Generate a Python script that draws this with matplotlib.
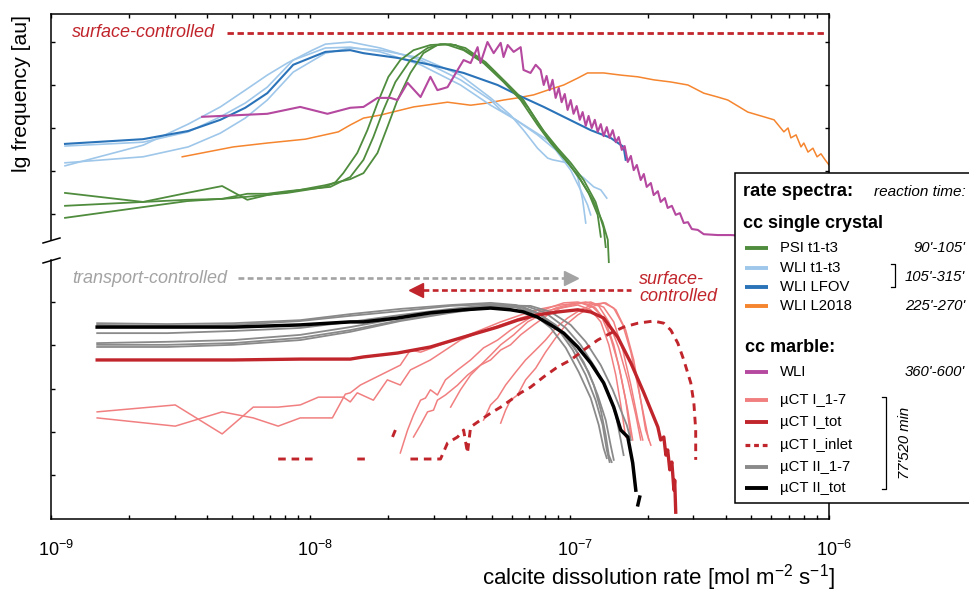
import numpy as np
import matplotlib
matplotlib.use("Agg")
import matplotlib.pyplot as plt
import matplotlib.transforms as mtransforms
from matplotlib.patches import Rectangle
from matplotlib.ticker import LogLocator, NullFormatter, FixedLocator

plt.rcParams['font.family'] = ['Liberation Sans', 'DejaVu Sans']
plt.rcParams['mathtext.fontset'] = 'custom'
plt.rcParams['mathtext.rm'] = 'Liberation Sans'
plt.rcParams['mathtext.it'] = 'Liberation Sans:italic'
plt.rcParams['mathtext.bf'] = 'Liberation Sans:bold'

# ---------------------------------------------------------------- data
# x: log10 of calcite dissolution rate [mol m-2 s-1]; y: lg frequency [au]
# ---- upper panel: cc single crystal / marble
wli_lfov_lgrate = [-8.946, -8.645, -8.471, -8.347, -8.251, -8.166, -8.066, -7.942, -7.846, -7.795, -7.664,
                   -7.537, -7.409, -7.278, -7.201, -7.100, -7.023, -6.919, -6.842, -6.792, -6.784]
wli_lfov_freq = [1.63, 1.74, 1.93, 2.19, 2.47, 2.81, 3.47, 3.77, 3.81, 3.74, 3.63,
                 3.47, 3.28, 3.00, 2.77, 2.49, 2.26, 1.95, 1.77, 1.56, 1.26]

wli_t1_lgrate = [-8.946, -8.645, -8.471, -8.347, -8.251, -8.166, -8.089, -7.992, -7.942, -7.846, -7.730,
                 -7.575, -7.421, -7.305, -7.266, -7.189, -7.085, -7.008, -6.969, -6.950, -6.938]
wli_t1_freq = [1.12, 1.60, 2.09, 2.49, 2.88, 3.23, 3.51, 3.81, 3.95, 4.00, 3.86,
               3.58, 3.12, 2.65, 2.42, 2.12, 1.72, 1.26, 0.86, 0.33, -0.21]
wli_t2_lgrate = [-8.946, -8.645, -8.471, -8.347, -8.251, -8.166, -8.066, -7.942, -7.846, -7.730, -7.575, -7.421,
                 -7.305, -7.228, -7.178, -7.124, -7.085, -7.066, -7.008, -6.977, -6.946, -6.907, -6.880, -6.857]
wli_t2_freq = [1.19, 1.33, 1.56, 1.88, 2.23, 2.65, 3.30, 3.74, 3.86, 3.81, 3.63, 3.23,
               2.70, 2.30, 1.95, 1.53, 1.30, 1.26, 1.19, 0.98, 0.84, 0.63, 0.56, 0.37]
wli_t3_lgrate = [-8.946, -8.645, -8.471, -8.347, -8.251, -8.166, -8.066, -7.942, -7.846, -7.730,
                 -7.575, -7.421, -7.305, -7.208, -7.124, -7.054, -6.996, -6.958, -6.931, -6.919]
wli_t3_freq = [1.58, 1.67, 1.91, 2.26, 2.58, 2.95, 3.58, 3.86, 3.88, 3.77,
               3.47, 3.00, 2.53, 2.19, 1.84, 1.49, 1.02, 0.56, 0.21, -0.02]

psi_t1_lgrate = [-8.946, -8.645, -8.475, -8.297, -8.089, -7.942, -7.903, -7.873, -7.819, -7.780, -7.741,
                 -7.699, -7.653, -7.602, -7.537, -7.479, -7.409, -7.332, -7.255, -7.189, -7.124, -7.073,
                 -7.023, -6.969, -6.927, -6.892, -6.880]
psi_t1_freq = [-0.09, 0.16, 0.30, 0.37, 0.49, 0.63, 0.74, 0.95, 1.42, 1.95, 2.58,
               3.19, 3.58, 3.81, 3.93, 3.95, 3.81, 3.51, 3.07, 2.65, 2.07, 1.65,
               1.30, 0.91, 0.49, -0.02, -0.53]
psi_t2_lgrate = [-8.946, -8.645, -8.475, -8.340, -8.243, -8.166, -8.039, -7.923, -7.846, -7.795, -7.757,
                 -7.718, -7.672, -7.614, -7.548, -7.498, -7.440, -7.382, -7.305, -7.228, -7.162, -7.100,
                 -7.046, -6.996, -6.946, -6.900, -6.869, -6.861]
psi_t2_freq = [0.49, 0.28, 0.49, 0.65, 0.33, 0.44, 0.56, 0.63, 0.86, 1.26, 1.79,
               2.42, 3.07, 3.58, 3.86, 3.95, 3.93, 3.74, 3.40, 2.93, 2.49, 1.93,
               1.53, 1.19, 0.79, 0.28, -0.33, -0.77]
psi_t3_lgrate = [-8.946, -8.645, -8.475, -8.340, -8.243, -8.166, -8.089, -8.039, -7.942, -7.846, -7.795,
                 -7.741, -7.703, -7.664, -7.614, -7.564, -7.510, -7.459, -7.402, -7.324, -7.247, -7.178,
                 -7.112, -7.062, -7.008, -6.958, -6.911, -6.873, -6.853, -6.849]
psi_t3_freq = [0.19, 0.28, 0.33, 0.35, 0.47, 0.47, 0.53, 0.56, 0.67, 0.81, 0.95,
               1.42, 2.02, 2.65, 3.28, 3.74, 3.93, 3.95, 3.86, 3.53, 3.07, 2.65,
               2.02, 1.60, 1.21, 0.79, 0.33, -0.19, -0.60, -1.12]

wli_l2018_lgrate = [-8.494, -8.297, -8.166, -8.019, -7.892, -7.846, -7.795, -7.730, -7.602, -7.471, -7.382,
                    -7.317, -7.255, -7.201, -7.139, -7.085, -7.023, -6.969, -6.931, -6.869, -6.803, -6.737,
                    -6.676, -6.610, -6.544, -6.483, -6.429, -6.390, -6.313, -6.251, -6.212, -6.174, -6.158,
                    -6.147, -6.127, -6.108, -6.097, -6.081, -6.062, -6.046, -6.031, -6.015, -6.000]
wli_l2018_freq = [1.33, 1.56, 1.65, 1.74, 1.91, 2.07, 2.23, 2.30, 2.49, 2.60, 2.53,
                  2.58, 2.65, 2.70, 2.77, 2.88, 3.00, 3.16, 3.28, 3.28, 3.23, 3.19,
                  3.12, 3.07, 3.00, 2.81, 2.72, 2.65, 2.37, 2.26, 2.19, 1.91, 2.00,
                  1.77, 1.84, 1.56, 1.65, 1.44, 1.53, 1.33, 1.40, 1.26, 1.14]

marble_lgrate = [-8.417, -8.166, -8.039, -7.934, -7.846, -7.795, -7.741, -7.691, -7.664, -7.625, -7.575,
                 -7.537, -7.510, -7.471, -7.432, -7.409, -7.382, -7.355, -7.344, -7.317, -7.293, -7.266,
                 -7.255, -7.239, -7.216, -7.189, -7.178, -7.151, -7.131,
                 -7.112, -7.100, -7.089, -7.077, -7.066, -7.054, -7.042, -7.031, -7.019, -7.008,
                 -6.996, -6.985, -6.973, -6.961, -6.950, -6.938, -6.927, -6.915, -6.903, -6.892,
                 -6.880, -6.869, -6.857, -6.846, -6.834, -6.822, -6.811, -6.799, -6.788, -6.776,
                 -6.764, -6.753, -6.741, -6.726, -6.714, -6.703, -6.687, -6.676, -6.660, -6.649,
                 -6.633, -6.622, -6.606, -6.591, -6.575, -6.560, -6.544, -6.529, -6.506, -6.483,
                 -6.429, -6.378, -6.320, -6.263]
marble_freq = [2.26, 2.33, 2.49, 2.33, 2.47, 2.49, 2.70, 2.70, 2.65, 3.05, 2.72,
               3.19, 2.88, 2.95, 3.35, 3.58, 3.51, 3.88, 3.51, 4.00, 3.74, 3.98,
               3.65, 3.93, 3.77, 3.88, 3.35, 3.28, 3.47,
               3.35, 3.00, 3.21, 2.88, 3.12, 2.70, 2.93, 2.60, 2.79, 2.42,
               2.65, 2.33, 2.51, 2.19, 2.37, 2.05, 2.28, 2.00, 2.19, 1.91,
               2.09, 1.81, 2.02, 1.77, 1.95, 1.67, 1.79, 1.49, 1.58, 1.21,
               1.35, 1.02, 1.14, 0.79, 0.93, 0.63, 0.72, 0.44, 0.53, 0.28,
               0.37, 0.14, 0.19, -0.02, 0.02, -0.21, -0.19, -0.35, -0.37, -0.47,
               -0.49, -0.49, -0.51, -0.51]

# ---- lower panel: uCT
ii_tot_lgrate = [-8.822, -8.552, -8.297, -8.039, -7.846, -7.795, -7.664, -7.537, -7.409, -7.305, -7.228, -7.178,
                 -7.124, -7.073, -7.023, -6.969, -6.919, -6.869, -6.830, -6.803, -6.776, -6.757, -6.745]
ii_tot_freq = [3.42, 3.42, 3.42, 3.47, 3.54, 3.54, 3.63, 3.75, 3.82, 3.86, 3.82, 3.77,
               3.65, 3.47, 3.28, 2.96, 2.59, 2.13, 1.57, 1.04, 0.88, 0.28, -0.35]
ii_tot_tail_lgrate = [-6.737, -6.730]
ii_tot_tail_freq = [-0.69, -0.51]

ii_parts_lgrate = [
    [-8.822, -8.552, -8.297, -8.039, -7.846, -7.653, -7.459, -7.305, -7.208, -7.131, -7.054, -6.996, -6.946,
     -6.907, -6.880, -6.861, -6.849, -6.838],
    [-8.822, -8.552, -8.297, -8.039, -7.846, -7.653, -7.459, -7.305, -7.189, -7.112, -7.035, -6.977, -6.927,
     -6.892, -6.861, -6.842, -6.830],
    [-8.822, -8.552, -8.297, -8.039, -7.846, -7.653, -7.459, -7.305, -7.170, -7.093, -7.015, -6.958, -6.900,
     -6.853, -6.822, -6.803, -6.792],
    [-8.822, -8.552, -8.297, -8.039, -7.846, -7.653, -7.459, -7.305, -7.151, -7.073, -6.996, -6.938, -6.880,
     -6.834, -6.803, -6.780, -6.764],
    [-8.822, -8.552, -8.297, -8.039, -7.846, -7.653, -7.459, -7.305, -7.189, -7.112, -7.042, -6.988, -6.938,
     -6.900, -6.873, -6.857, -6.846],
    [-8.822, -8.552, -8.297, -8.039, -7.846, -7.653, -7.459, -7.305, -7.228, -7.151, -7.073, -7.015, -6.965,
     -6.919, -6.888, -6.869, -6.857],
]
ii_parts_freq = [
    [3.51, 3.49, 3.51, 3.58, 3.72, 3.84, 3.93, 3.98, 3.93, 3.77, 3.47, 3.08, 2.61, 2.08, 1.50, 0.92, 0.46, 0.30],
    [3.47, 3.45, 3.47, 3.56, 3.68, 3.79, 3.91, 3.95, 3.91, 3.70, 3.35, 2.89, 2.38, 1.85, 1.27, 0.69, 0.35],
    [3.28, 3.28, 3.33, 3.40, 3.54, 3.70, 3.84, 3.93, 3.91, 3.75, 3.40, 3.01, 2.47, 1.92, 1.39, 0.81, 0.46],
    [3.05, 3.08, 3.12, 3.24, 3.42, 3.63, 3.79, 3.91, 3.91, 3.77, 3.47, 3.08, 2.54, 1.97, 1.50, 1.16, 0.81],
    [3.01, 3.01, 3.05, 3.17, 3.35, 3.58, 3.77, 3.88, 3.88, 3.72, 3.35, 2.89, 2.31, 1.73, 1.16, 0.58, 0.30],
    [2.96, 2.96, 3.01, 3.12, 3.31, 3.56, 3.75, 3.88, 3.91, 3.77, 3.40, 2.94, 2.38, 1.78, 1.16, 0.62, 0.39],
]

i_tot_lgrate = [-8.822, -8.552, -8.297, -8.039, -7.846, -7.795, -7.664, -7.537, -7.409, -7.278, -7.201, -7.124,
                -7.046, -6.969, -6.919, -6.869, -6.815, -6.764, -6.714, -6.660, -6.649, -6.637, -6.629, -6.622,
                -6.614, -6.606, -6.598, -6.595, -6.591]
i_tot_freq = [2.66, 2.66, 2.66, 2.68, 2.68, 2.73, 2.82, 2.96, 3.19, 3.42, 3.58, 3.70,
              3.77, 3.82, 3.77, 3.63, 3.19, 2.59, 1.90, 1.11, 0.81, 0.88, 0.46, 0.58,
              0.12, 0.30, -0.35, -0.12, -0.86]

i_inlet_lgrate = [-8.124, -7.969, np.nan, -7.819, -7.780, np.nan, -7.683, -7.672, np.nan,
                  -7.614, -7.498, -7.471, -7.432, -7.409, -7.394, -7.382, -7.344, -7.305, -7.266, -7.228,
                  -7.189, -7.151, -7.100, -7.046, -6.996, -6.946, -6.892, -6.842, -6.792, -6.737, -6.676,
                  -6.637, -6.610, -6.583, -6.560, -6.533, -6.521, -6.514, -6.514]
i_inlet_freq = [0.37, 0.37, np.nan, 0.37, 0.37, np.nan, 0.88, 1.04, np.nan,
                0.37, 0.37, 0.74, 0.88, 1.04, 0.51, 1.11, 1.27, 1.43, 1.57, 1.73,
                1.90, 2.03, 2.27, 2.50, 2.66, 2.89, 3.12, 3.28, 3.42, 3.51, 3.56,
                3.51, 3.35, 3.05, 2.66, 2.13, 1.66, 1.04, 0.35]

i_parts_lgrate = [
    [-8.822, -8.521, -8.340, -8.220, -8.124, -8.039, -7.969, -7.873, -7.846, -7.819, -7.757, -7.703, -7.653,
     -7.614, -7.537, -7.479, -7.421, -7.344, -7.266, -7.189, -7.112, -7.035, -6.969, -6.919, -6.880, -6.849,
     -6.822, -6.803, -6.784],
    [-8.822, -8.521, -8.340, -8.220, -8.124, -8.039, -7.915, -7.865, -7.846, -7.807, -7.730, -7.653, -7.614,
     -7.575, -7.498, -7.421, -7.344, -7.266, -7.189, -7.112, -7.035, -6.958, -6.900, -6.861, -6.830, -6.803,
     -6.776, -6.757],
    [-7.653, -7.625, -7.602, -7.575, -7.556, -7.537, -7.510, -7.479, -7.432, -7.382, -7.332, -7.278, -7.228,
     -7.178, -7.124, -7.073, -7.023, -6.969, -6.919, -6.880, -6.842, -6.811, -6.784, -6.764],
    [-7.602, -7.575, -7.548, -7.525, -7.510, -7.479, -7.432, -7.394, -7.344, -7.305, -7.266, -7.216, -7.162,
     -7.112, -7.054, -6.996, -6.938, -6.888, -6.849, -6.811, -6.776, -6.745, -6.726],
    [-7.459, -7.421, -7.382, -7.344, -7.305, -7.266, -7.228, -7.189, -7.139, -7.085, -7.035, -6.977, -6.919,
     -6.869, -6.830, -6.795, -6.764, -6.737, -6.718],
    [-7.266, -7.247, -7.228, -7.201, -7.170, -7.131, -7.093, -7.054, -7.015, -6.969, -6.919, -6.869, -6.830,
     -6.795, -6.764, -6.734, -6.707, -6.695],
    [-7.332, -7.305, -7.278, -7.247, -7.208, -7.170, -7.131, -7.093, -7.054, -7.008, -6.958, -6.907, -6.861,
     -6.822, -6.784, -6.753, -6.726, -6.707, -6.687],
]
i_parts_freq = [
    [1.46, 1.62, 0.95, 1.57, 1.57, 1.62, 1.80, 1.80, 1.69, 1.90, 1.73, 2.20, 2.08,
     2.43, 2.66, 2.89, 3.12, 3.31, 3.47, 3.63, 3.77, 3.86, 3.93, 3.82, 3.54, 3.01,
     2.31, 1.62, 0.88],
    [1.32, 1.13, 1.46, 1.32, 1.13, 1.32, 1.32, 1.87, 1.90, 2.08, 2.31, 2.54, 2.89,
     2.84, 3.01, 3.17, 3.35, 3.54, 3.70, 3.84, 3.93, 3.98, 3.86, 3.54, 3.01, 2.31,
     1.50, 0.81],
    [0.51, 1.04, 1.39, 1.73, 1.78, 1.97, 1.85, 2.20, 2.43, 2.66, 2.94, 3.12, 3.35,
     3.54, 3.75, 3.88, 3.98, 4.00, 3.93, 3.70, 3.17, 2.54, 1.73, 0.88],
    [0.88, 1.16, 1.46, 1.50, 1.73, 1.85, 2.08, 2.31, 2.54, 2.77, 3.01, 3.24, 3.54,
     3.70, 3.86, 3.95, 4.00, 3.91, 3.54, 2.94, 2.20, 1.39, 0.81],
    [1.57, 1.97, 2.31, 2.54, 2.66, 2.89, 3.01, 3.24, 3.47, 3.70, 3.86, 3.95, 4.00,
     3.88, 3.54, 2.89, 2.08, 1.27, 0.81],
    [1.20, 1.50, 1.73, 1.85, 2.20, 2.47, 2.84, 3.17, 3.47, 3.70, 3.88, 3.98, 3.86,
     3.47, 2.84, 1.97, 1.16, 0.81],
    [1.27, 1.62, 1.78, 2.08, 2.38, 2.66, 2.89, 3.12, 3.40, 3.63, 3.82, 3.95, 3.98,
     3.82, 3.35, 2.66, 1.73, 1.04, 0.69],
]

# ---- axis ticks
decade_ticks = [1e-9, 1e-8, 1e-7, 1e-6]

# ---- annotations (regime indicators)
surface_top_lgrate = [-8.32, -6.02]
surface_top_level = 4.21
transport_arrow_lgrate = [-8.278, -7.015]
transport_arrow_tip = -6.996
transport_level = 4.55
surface_arrow_lgrate = [-7.564, -6.764]
surface_arrow_tip = -7.591
surface_level = 4.28

# ---- legend
legend_single = ["PSI t1-t3", "WLI t1-t3", "WLI LFOV", "WLI L2018"]
legend_marble = ["WLI"]
legend_uct = ["\u00b5CT I_1-7", "\u00b5CT I_tot", "\u00b5CT I_inlet", "\u00b5CT II_1-7", "\u00b5CT II_tot"]
times_single = ["90'-105'", "105'-315'", "225'-270'"]
times_marble = ["360'-600'"]
time_uct = "77'520 min"

# ---------------------------------------------------------------- style
GREEN = '#4f8c3d'
LBLUE = '#9fc7ea'
DBLUE = '#2b73b9'
ORANGE = '#f5852e'
MAGENTA = '#b5489f'
PINK = '#f17f80'
RED = '#c1252c'
GRAY = '#8a8a8a'
AGRAY = '#a3a3a3'


def R(v):
    return np.power(10.0, np.asarray(v, dtype=float))


W, H = 969, 595
fig = plt.figure(figsize=(W / 100, H / 100), dpi=100)


def box(x0, y0, x1, y1):
    return [x0 / W, 1 - y1 / H, (x1 - x0) / W, (y1 - y0) / H]


ax_top = fig.add_axes(box(51, 14, 829, 240))
ax_bot = fig.add_axes(box(51, 260, 829, 519))

for ax in (ax_top, ax_bot):
    ax.set_xscale('log')
    ax.set_xlim(1e-9, 1e-6)
    ax.xaxis.set_major_locator(FixedLocator(decade_ticks))
    ax.xaxis.set_minor_locator(LogLocator(base=10, subs=np.arange(2, 10), numticks=20))
    ax.xaxis.set_minor_formatter(NullFormatter())
    ax.yaxis.set_major_locator(FixedLocator([0, 1, 2, 3, 4]))
    for s in ax.spines.values():
        s.set_linewidth(1.1)
    ax.tick_params(axis='y', direction='in', left=True, right=True, labelleft=False, length=3.2, width=1.0)
    ax.set_facecolor('none')

ax_top.set_ylim(-0.605, 4.651)
ax_bot.set_ylim(-1.017, 4.971)
ax_top.spines['bottom'].set_visible(False)
ax_bot.spines['top'].set_visible(False)
ax_top.tick_params(axis='x', which='both', direction='in', top=True, bottom=False,
                   labelbottom=False, labeltop=False, length=3.2, width=1.0)
ax_bot.tick_params(axis='x', which='both', direction='in', top=False, bottom=True,
                   labelbottom=True, length=3.2, width=1.0, pad=15, labelsize=13)

# ---- upper panel curves
ax_top.plot(R(wli_l2018_lgrate), wli_l2018_freq, color=ORANGE, lw=1.1)
for xs, ys in ((wli_t1_lgrate, wli_t1_freq), (wli_t2_lgrate, wli_t2_freq), (wli_t3_lgrate, wli_t3_freq)):
    ax_top.plot(R(xs), ys, color=LBLUE, lw=1.2)
ax_top.plot(R(wli_lfov_lgrate), wli_lfov_freq, color=DBLUE, lw=1.5)
for xs, ys in ((psi_t1_lgrate, psi_t1_freq), (psi_t2_lgrate, psi_t2_freq), (psi_t3_lgrate, psi_t3_freq)):
    ax_top.plot(R(xs), ys, color=GREEN, lw=1.3, clip_on=False)
ax_top.plot(R(marble_lgrate), marble_freq, color=MAGENTA, lw=1.5)

ax_top.plot(R(surface_top_lgrate), [surface_top_level] * 2, color=RED, lw=2.0, dashes=(2.3, 1.3))
ax_top.text(R(-8.919), surface_top_level, 'surface-controlled', color=RED, style='italic',
            fontsize=13, ha='left', va='center')

# ---- lower panel curves
for xs, ys in zip(i_parts_lgrate, i_parts_freq):
    ax_bot.plot(R(xs), ys, color=PINK, lw=1.1)
for xs, ys in zip(ii_parts_lgrate, ii_parts_freq):
    ax_bot.plot(R(xs), ys, color=GRAY, lw=1.3)
ax_bot.plot(R(i_inlet_lgrate), i_inlet_freq, color=RED, lw=2.1, dashes=(2.6, 2.0))
ax_bot.plot(R(i_tot_lgrate), i_tot_freq, color=RED, lw=2.4, solid_joinstyle='round')
ax_bot.plot(R(ii_tot_lgrate), ii_tot_freq, color='black', lw=2.5)
ax_bot.plot(R(ii_tot_tail_lgrate), ii_tot_tail_freq, color='black', lw=2.5)

# regime arrows
ax_bot.plot(R(transport_arrow_lgrate), [transport_level] * 2, color=AGRAY, lw=1.9, dashes=(2.2, 1.3))
ax_bot.plot([R(transport_arrow_tip)], [transport_level], marker='>', ms=10, color=AGRAY, mec=AGRAY)
ax_bot.text(R(-8.919), transport_level, 'transport-controlled', color=AGRAY, style='italic',
            fontsize=13, ha='left', va='center')
ax_bot.plot(R(surface_arrow_lgrate), [surface_level] * 2, color=RED, lw=1.9, dashes=(2.2, 1.3))
ax_bot.plot([R(surface_arrow_tip)], [surface_level], marker='<', ms=10, color=RED, mec=RED)
ax_bot.text(R(-6.733), 4.32, 'surface-\ncontrolled', color=RED, style='italic',
            fontsize=13, ha='left', va='center', linespacing=1.0)

# axis labels
fig.text(22 / W, 1 - 93 / H, 'lg frequency [au]', rotation=90, ha='center', va='center', fontsize=15.3)
fig.text(658 / W, 1 - 578 / H, 'calcite dissolution rate [mol m$^{-2}$ s$^{-1}$]',
         ha='center', va='center', fontsize=16)

# ---- overlay: break marks and legend
ov = fig.add_axes([0, 0, 1, 1], zorder=10)
ov.set_xlim(0, W)
ov.set_ylim(H, 0)
ov.axis('off')
ov.patch.set_alpha(0)
ov.plot([43, 60], [243, 238], color='black', lw=1.1)
ov.plot([43, 60], [263, 258], color='black', lw=1.1)

ov.add_patch(Rectangle((735, 173), 260, 330, facecolor='white', edgecolor='black', lw=1.1))
ov.text(743, 192, 'rate spectra:', fontsize=13.2, fontweight='bold', ha='left', va='center')
ov.text(966, 192, 'reaction time:', fontsize=11, style='italic', ha='right', va='center')
ov.text(743, 223, 'cc single crystal', fontsize=13, fontweight='bold', ha='left', va='center')
ov.text(745, 348, 'cc marble:', fontsize=13, fontweight='bold', ha='left', va='center')

single_styles = [(GREEN, '-'), (LBLUE, '-'), (DBLUE, '-'), (ORANGE, '-')]
single_y = [248, 268, 287, 306]
for (c, ls), yy, lab in zip(single_styles, single_y, legend_single):
    ov.plot([745, 768], [yy, yy], color=c, lw=2.8, ls=ls, solid_capstyle='butt')
    ov.text(780, yy, lab, fontsize=10.7, ha='left', va='center')
ov.text(965, 248, times_single[0], fontsize=10.7, style='italic', ha='right', va='center')
ov.text(965, 277, times_single[1], fontsize=10.7, style='italic', ha='right', va='center')
ov.text(965, 306, times_single[2], fontsize=10.7, style='italic', ha='right', va='center')
ov.plot([891, 895, 895, 891], [264, 264, 287, 287], color='black', lw=0.9)

ov.plot([745, 768], [372, 372], color=MAGENTA, lw=2.8, solid_capstyle='butt')
ov.text(780, 372, legend_marble[0], fontsize=10.7, ha='left', va='center')
ov.text(965, 372, times_marble[0], fontsize=10.7, style='italic', ha='right', va='center')

uct_styles = [(PINK, '-'), (RED, '-'), (RED, '--'), (GRAY, '-'), ('black', '-')]
uct_y = [400, 422, 445, 467, 488]
for (c, ls), yy, lab in zip(uct_styles, uct_y, legend_uct):
    if ls == '--':
        ov.plot([745, 768], [yy, yy], color=c, lw=2.3, dashes=(1.5, 1.2))
    else:
        ov.plot([745, 768], [yy, yy], color=c, lw=2.8, solid_capstyle='butt')
    ov.text(780, yy, lab, fontsize=10.7, ha='left', va='center')
ov.plot([882, 886, 886, 882], [397, 397, 489, 489], color='black', lw=0.9)
ov.text(905, 443, time_uct, fontsize=10.7, style='italic', rotation=90, ha='center', va='center')

# shift x tick labels so that the "10" sits centred on its tick
fig.canvas.draw()
shift = mtransforms.ScaledTranslation(5 / 100, 0, fig.dpi_scale_trans)
for lab in ax_bot.get_xticklabels():
    lab.set_transform(lab.get_transform() + shift)

fig.savefig('out.png', dpi=100)
